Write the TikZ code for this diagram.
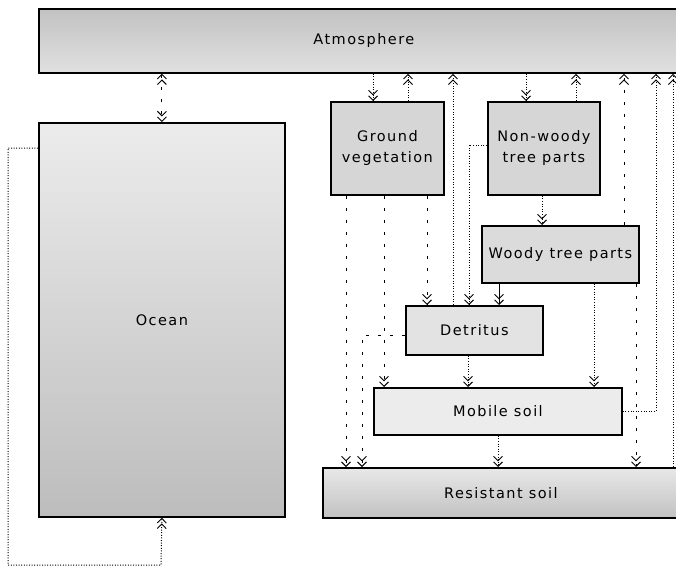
\documentclass[tikz,border=0pt]{standalone}
\usepackage{fontspec}
\setmainfont{DejaVu Sans}[LetterSpace=10]
\usetikzlibrary{arrows.meta,calc}
\begin{document}
\begin{tikzpicture}[x=1pt,y=-1pt,
  box/.style={draw,line width=1.8pt,inner sep=0pt,anchor=north west,align=center,
    font=\fontsize{14.5}{21}\selectfont},
  fl/.style={dash pattern=on 1pt off 1.6pt,line width=1pt},
  sp/.style={dash pattern=on 3pt off 9pt,line width=1pt},
  bt/.tip={Straight Barb[length=4.5pt,width=9pt,line width=0.9pt]},
  tip/.style={-{bt[]bt[]}},
  tips/.style={{bt[]bt[]}-{bt[]bt[]}}
]
\useasboundingbox (0,0) rectangle (676,567);
\clip (0,0) rectangle (676,567);

% boxes
\node[box,top color=gray!48,bottom color=gray!24,minimum width=650pt,minimum height=64pt] (atm) at (38,8) {Atmosphere};
\node[box,top color=gray!15,bottom color=gray!52,minimum width=246pt,minimum height=394pt] (ocean) at (38,122) {Ocean};
\node[box,fill=gray!32,minimum width=113pt,minimum height=93pt] (gv) at (330,101) {Ground\\vegetation};
\node[box,fill=gray!32,minimum width=112pt,minimum height=93pt] (nw) at (487,101) {Non-woody\\tree parts};
\node[box,fill=gray!28,minimum width=157pt,minimum height=57pt] (wood) at (481,225) {Woody tree parts};
\node[box,fill=gray!22,minimum width=137pt,minimum height=49pt] (det) at (405,305) {Detritus};
\node[box,fill=gray!15,minimum width=248pt,minimum height=47pt] (mob) at (373,387) {Mobile soil};
\node[box,top color=gray!18,bottom color=gray!48,minimum width=356pt,minimum height=50pt] (res) at (322,467) {Resistant soil};

% column coordinates
\coordinate (lp1) at (8,148);
\coordinate (lp2) at (8,565);
\coordinate (lp3) at (161,565);
\coordinate (k346) at (346,0);
\coordinate (k362) at (362,335);
\coordinate (k373) at (373,0);
\coordinate (k384) at (384,0);
\coordinate (k408) at (408,0);
\coordinate (k427) at (427,0);
\coordinate (k453) at (453,0);
\coordinate (k468) at (468,0);
\coordinate (k469) at (469,145);
\coordinate (k498) at (498,0);
\coordinate (k499) at (499,0);
\coordinate (k526) at (526,0);
\coordinate (k542) at (542,0);
\coordinate (k576) at (576,0);
\coordinate (k594) at (594,0);
\coordinate (k624) at (624,0);
\coordinate (k636) at (636,0);
\coordinate (k656) at (656,0);
\coordinate (k673) at (673,0);

% atmosphere <-> ocean
\draw[sp,tips] (atm.south -| ocean.north) -- (ocean.north);
% ocean circulation loop
\draw[fl,tip] (ocean.west |- lp1) -- (lp1) -- (lp2) -- (lp3) -- (ocean.south);

% atmosphere exchanges
\draw[fl,tip] (atm.south -| k373) -- (gv.north -| k373);
\draw[fl,tip] (gv.north -| k408) -- (atm.south -| k408);
\draw[fl,tip] (det.north -| k453) -- (atm.south -| k453);
\draw[fl,tip] (atm.south -| k526) -- (nw.north -| k526);
\draw[fl,tip] (nw.north -| k576) -- (atm.south -| k576);
\draw[sp,tip] (wood.north -| k624) -- (atm.south -| k624);
\draw[fl,tip] (mob.east) -- (mob.east -| k656) -- (atm.south -| k656);
\draw[fl,tip] (res.north -| k673) -- (atm.south -| k673);

% ground vegetation outputs
\draw[sp,tip] (gv.south -| k346) -- (res.north -| k346);
\draw[sp,tip] (gv.south -| k384) -- (mob.north -| k384);
\draw[sp,tip] (gv.south -| k427) -- (det.north -| k427);

% tree parts
\draw[fl,tip] (nw.west |- k469) -- (k469) -- (det.north -| k469);
\draw[fl,tip] (nw.south -| k542) -- (wood.north -| k542);
\draw[line width=1pt,tip] (wood.south -| k499) -- (det.north -| k499);
\draw[fl,tip] (wood.south -| k594) -- (mob.north -| k594);
\draw[sp,tip] (wood.south -| k636) -- (res.north -| k636);

% detritus and soils
\draw[fl,tip] (det.south -| k468) -- (mob.north -| k468);
\draw[sp,tip] (det.west |- k362) -- (k362) -- (res.north -| k362);
\draw[fl,tip] (mob.south -| k498) -- (res.north -| k498);
\end{tikzpicture}
\end{document}
